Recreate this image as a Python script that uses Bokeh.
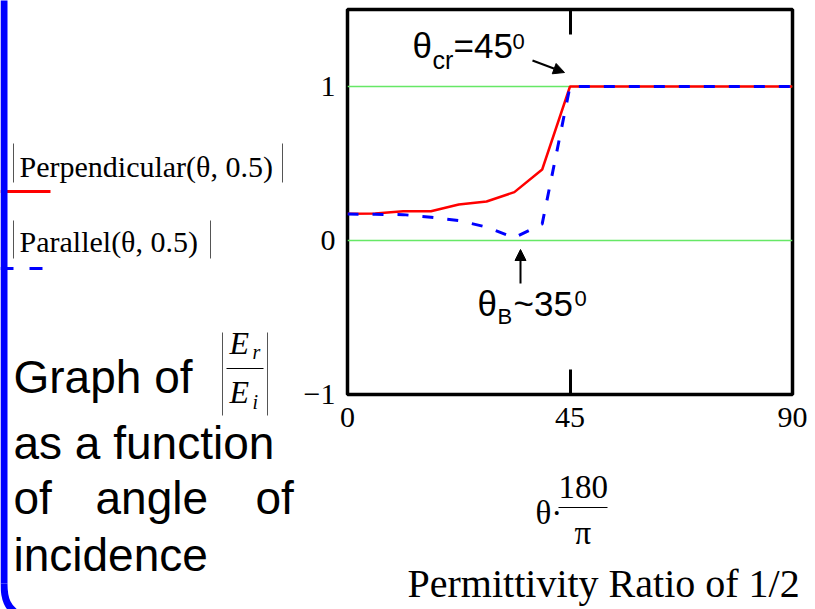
from bokeh.plotting import figure
from bokeh.layouts import row, column
from bokeh.models import (Range1d, LinearAxis, FixedTicker, Grid, Label, Arrow,
                          NormalHead)
from bokeh.embed import file_html
from bokeh.resources import INLINE

# ---------------- data ----------------
theta_deg = [0, 5.625, 11.25, 16.875, 22.5, 28.125, 33.75, 39.375, 45,
             50.625, 56.25, 61.875, 67.5, 73.125, 78.75, 84.375, 90]
perpendicular = [0.173, 0.175, 0.19, 0.19, 0.234, 0.253, 0.314, 0.461, 1.0,
                 1.0, 1.0, 1.0, 1.0, 1.0, 1.0, 1.0, 1.0]
parallel = [0.172, 0.17, 0.168, 0.151, 0.13, 0.087, 0.018, 0.108, 1.0,
            1.0, 1.0, 1.0, 1.0, 1.0, 1.0, 1.0, 1.0]
x_ticks = [0, 45, 90]
y_ticks = [-1, 0, 1]
y_tick_labels = {-1: "\u22121", 0: "0", 1: "1"}
XMIN, XMAX = 0, 90
YMIN, YMAX = -1, 1.5

SERIF = "Liberation Serif"
SANS = "Liberation Sans"
BASE_SHIFT = 0.33   # label baseline correction (fraction of font size)

# ---------------- layout (page pixels) ----------------
PW, PH = 815, 609
LEFT_W = 300                 # left text panel width
MAIN_H = 445                 # main figure height
FL, FT, FW, FH = 347, 9, 445, 385   # plot frame on the page

def panel(w, h, x0, y0):
    f = figure(width=w, height=h, output_backend="svg", toolbar_location=None,
               x_range=Range1d(x0, x0 + w), y_range=Range1d(y0 + h, y0),
               x_axis_type=None, y_axis_type=None, frame_align=False,
               min_border=0, min_border_left=0, min_border_right=0,
               min_border_top=0, min_border_bottom=0)
    f.outline_line_color = None
    f.background_fill_color = "white"
    f.border_fill_color = "white"
    return f

# ---------------- main plot ----------------
p = figure(width=PW - LEFT_W, height=MAIN_H, output_backend="svg",
           toolbar_location=None, frame_align=False,
           x_range=Range1d(XMIN, XMAX), y_range=Range1d(YMIN, YMAX),
           x_axis_type=None, y_axis_type=None,
           min_border_left=FL - LEFT_W, min_border_top=FT,
           min_border_right=PW - FL - FW,
           min_border_bottom=MAIN_H - FT - FH)
p.background_fill_color = "white"
p.border_fill_color = "white"
p.outline_line_color = "black"
p.outline_line_width = 3.5

def dx(px):
    return XMIN + (px - FL) * (XMAX - XMIN) / FW

def dy(py):
    return YMAX - (py - FT) * (YMAX - YMIN) / FH

xb = LinearAxis(ticker=FixedTicker(ticks=x_ticks))
xb.axis_line_color = None
xb.major_tick_in = 25
xb.major_tick_out = 0
xb.major_tick_line_width = 3
xb.minor_tick_line_color = None
xb.major_label_text_font = SERIF
xb.major_label_text_font_size = "30px"
xb.major_label_text_color = "black"
xb.major_label_standoff = 13
p.add_layout(xb, "below")

xa = LinearAxis(ticker=FixedTicker(ticks=x_ticks))
xa.axis_line_color = None
xa.major_tick_in = 25
xa.major_tick_out = 0
xa.major_tick_line_width = 3
xa.minor_tick_line_color = None
xa.major_label_overrides = {t: "" for t in x_ticks}
xa.major_label_text_font_size = "1px"
xa.major_label_standoff = 0
p.add_layout(xa, "above")

yl = LinearAxis(ticker=FixedTicker(ticks=y_ticks))
yl.axis_line_color = None
yl.major_tick_in = 0
yl.major_tick_out = 0
yl.minor_tick_line_color = None
yl.major_label_overrides = y_tick_labels
yl.major_label_text_font = SERIF
yl.major_label_text_font_size = "30px"
yl.major_label_text_color = "black"
yl.major_label_standoff = 12
p.add_layout(yl, "left")

grid = Grid(dimension=1, ticker=FixedTicker(ticks=y_ticks))
grid.grid_line_color = "#66e866"
grid.grid_line_width = 1.5
p.add_layout(grid)

p.line(theta_deg, perpendicular, line_color="#ff0000", line_width=2.5)
p.line(theta_deg, parallel, line_color="#0000ff", line_width=3,
       line_dash="11 14")

def mlabel(px, py, text, size, font=SANS):
    p.add_layout(Label(x=dx(px), y=dy(py - BASE_SHIFT * size), text=text,
                       text_font=font, text_font_size=f"{size}px",
                       text_color="black", text_baseline="alphabetic",
                       text_align="left"))

def marrow(px0, py0, px1, py1):
    p.add_layout(Arrow(x_start=dx(px0), y_start=dy(py0), x_end=dx(px1),
                       y_end=dy(py1), line_color="black", line_width=2,
                       end=NormalHead(size=11, fill_color="black",
                                      line_color="black")))

mlabel(412, 57, "\u03b8", 35)
mlabel(432, 68, "cr", 25)
mlabel(453, 57, "=45", 35)
mlabel(512, 48, "0", 22)
marrow(532, 60, 564, 72)

mlabel(477, 315, "\u03b8", 35)
mlabel(497, 323, "B", 22)
mlabel(513, 315, "~35", 35)
mlabel(574, 305, "0", 22)
marrow(520, 283, 520, 249)

# ---------------- left text panel ----------------
L = panel(LEFT_W, PH, 0, 0)

def llabel(f, px, py, text, size, font=SANS, style="normal"):
    f.add_layout(Label(x=px, y=py - BASE_SHIFT * size, text=text,
                       text_font=font, text_font_size=f"{size}px",
                       text_font_style=style, text_color="black",
                       text_baseline="alphabetic", text_align="left"))

def lseg(f, x0, y0, x1, y1, color="black", width=1.0, dash="solid"):
    f.segment(x0=[x0], y0=[y0], x1=[x1], y1=[y1], line_color=color,
              line_width=width, line_dash=dash)

llabel(L, 19, 176, "Perpendicular(\u03b8, 0.5)", 30, font=SERIF)
lseg(L, 13, 143, 13, 182, color="#555555")
lseg(L, 282, 143, 282, 182, color="#555555")
lseg(L, 0, 191, 50, 191, color="#ff0000", width=3)

llabel(L, 19, 251, "Parallel(\u03b8, 0.5)", 30, font=SERIF)
lseg(L, 13, 220, 13, 258, color="#555555")
lseg(L, 210, 220, 210, 258, color="#555555")
lseg(L, 0, 268, 42, 268, color="#0000ff", width=3, dash="13 16")

llabel(L, 13, 392, "Graph of", 46)
llabel(L, 13, 458, "as a function", 46)
llabel(L, 13, 513, "of", 46)
llabel(L, 95, 513, "angle", 46)
llabel(L, 255, 513, "of", 46)
llabel(L, 13, 570, "incidence", 46)

llabel(L, 229, 353, "E", 32, font=SERIF, style="italic")
llabel(L, 252, 358, "r", 20, font=SERIF, style="italic")
lseg(L, 226, 368, 263, 368, width=1)
llabel(L, 229, 402, "E", 32, font=SERIF, style="italic")
llabel(L, 252, 408, "i", 20, font=SERIF, style="italic")
lseg(L, 222, 332, 222, 415, color="#555555")
lseg(L, 267, 332, 267, 415, color="#555555")

# slide border on the left edge
lseg(L, 3.5, -5, 3.5, 583, color="#0000ff", width=7)
L.bezier(x0=[3.5], y0=[583], x1=[15], y1=[612], cx0=[3.5], cy0=[600],
         cx1=[8], cy1=[607], line_color="#0000ff", line_width=7)

# ---------------- bottom panel ----------------
B = panel(PW - LEFT_W, PH - MAIN_H, LEFT_W, MAIN_H)
llabel(B, 535, 523, "\u03b8\u00b7", 33, font=SERIF)
llabel(B, 558, 497, "180", 33, font=SERIF)
lseg(B, 558, 507, 607, 507, width=1.2)
llabel(B, 574, 543, "\u03c0", 33, font=SERIF)
llabel(B, 407, 596, "Permittivity Ratio of 1/2", 40, font=SERIF)

layout = row(L, column(p, B))
open("out.html", "w").write(file_html(layout, INLINE))
